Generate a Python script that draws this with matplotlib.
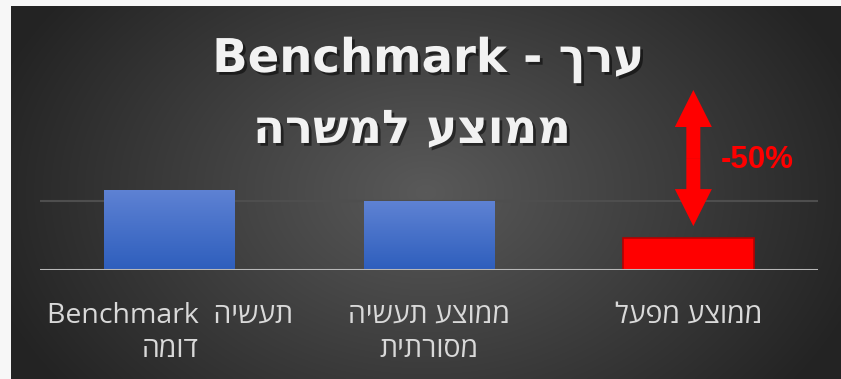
import numpy as np
import matplotlib.pyplot as plt
import matplotlib.patheffects as pe
from matplotlib.patches import FancyArrow

# chart data (logical order)
categories = ["תעשיה  Benchmark\nדומה", "ממוצע תעשיה\nמסורתית", "ממוצע מפעל"]
values = [23.1, 19.9, 9.2]
bar_kinds = ["blue", "blue", "red"]
grid_value = 20
title_lines = ["ערך - Benchmark", "ממוצע למשרה"]
delta_label = "-50%"

W, H = 841, 379


def visual(s):
    # matplotlib lays glyphs out left to right, so flip the hebrew runs by hand
    out = []
    for line in s.split("\n"):
        words = line.split(" ")
        words = [w[::-1] if any("\u0590" <= c <= "\u05ff" for c in w) else w
                 for w in words]
        out.append(" ".join(reversed(words)))
    return "\n".join(out)


fig = plt.figure(figsize=(W / 100, H / 100), dpi=100)
fig.patch.set_facecolor("#f7f7f7")

# dark slide background with a soft radial glow
bg = fig.add_axes([11 / W, 0, (W - 11) / W, (H - 6) / H])
bg.set_axis_off()
gx, gy = np.meshgrid(np.linspace(0, 1, 400), np.linspace(0, 1, 200))
r = np.sqrt(((gx - 0.5) / 0.6) ** 2 + ((gy - 0.5) / 0.95) ** 2)
shade = np.clip(0.35 - 0.23 * r, 0.14, 0.35)
bg.imshow(np.dstack([shade] * 3), extent=(0, 1, 0, 1), aspect="auto",
          interpolation="bicubic")
bg.set_xlim(0, 1)
bg.set_ylim(0, 1)

# bar chart
ax = fig.add_axes([40 / W, 109 / H, 778 / W, 104 / H])
ax.set_facecolor("none")
x = np.arange(len(values))
bars = ax.bar(x, values, width=0.505, zorder=3)
blue_grad = np.linspace(0, 1, 100)[:, None]
blue_top = np.array([0.37, 0.51, 0.83])
blue_bot = np.array([0.18, 0.37, 0.74])
for b, kind in zip(bars, bar_kinds):
    x0, y0, bw, bh = b.get_x(), b.get_y(), b.get_width(), b.get_height()
    if kind == "blue":
        b.set_facecolor("none")
        b.set_edgecolor("none")
        cols = blue_bot + (blue_top - blue_bot) * blue_grad
        im = ax.imshow(cols[:, None, :].repeat(2, axis=1),
                       extent=(x0, x0 + bw, y0, y0 + bh), origin="lower",
                       aspect="auto", zorder=3)
        im.set_clip_path(b)
    else:
        b.set_facecolor("#ff0000")
        b.set_edgecolor("#b40000")
        b.set_linewidth(1.2)

ax.set_xlim(-0.5, len(values) - 0.5)
ax.set_ylim(0, 30)
ax.axhline(grid_value, color="#4e4e4e", lw=1.5, zorder=1)
ax.axhline(0, color="#b8b8b8", lw=2.2, zorder=4)
for s in ax.spines.values():
    s.set_visible(False)
ax.set_yticks([])
ax.set_xticks(x)
ax.set_xticklabels([visual(c) for c in categories],
                   family=["Open Sans", "DejaVu Sans"], fontsize=20.5,
                   color="#d9d9d9", linespacing=1.3)
ax.tick_params(axis="x", length=0, pad=23)

# overlay in pixel units for title and the change marker
ov = fig.add_axes([0, 0, 1, 1])
ov.set_axis_off()
ov.set_xlim(0, W)
ov.set_ylim(H, 0)

shadow = [pe.withSimplePatchShadow(offset=(2, -2), shadow_rgbFace="black",
                                   alpha=0.5)]
ov.text(428, 72, visual(title_lines[0]), ha="center", va="baseline",
        fontsize=33.5, fontweight="bold", color="#f2f2f2",
        family=["DejaVu Sans"], path_effects=shadow)
ov.text(412, 143, visual(title_lines[1]), ha="center", va="baseline",
        fontsize=33.5, fontweight="bold", color="#f2f2f2",
        family=["DejaVu Sans"], path_effects=shadow)

# double arrow above the factory bar
fig.canvas.draw()
px, py = ax.transData.transform((x[2], values[2]))
ax_x = px + 5
tip_low = (H - py) - 12
tip_high = 90
mid = (tip_low + tip_high) / 2
for end in (tip_high, tip_low):
    ov.add_patch(FancyArrow(ax_x, mid, 0, end - mid, width=14, head_width=37,
                            head_length=37, length_includes_head=True,
                            color="#ff0000", lw=0))
ov.text(ax_x + 27, mid + 2, delta_label, ha="left", va="center", fontsize=22.5,
        fontweight="bold", color="#ff0000",
        family=["Liberation Sans", "DejaVu Sans"])

fig.savefig("out.png", dpi=100, facecolor=fig.get_facecolor())
